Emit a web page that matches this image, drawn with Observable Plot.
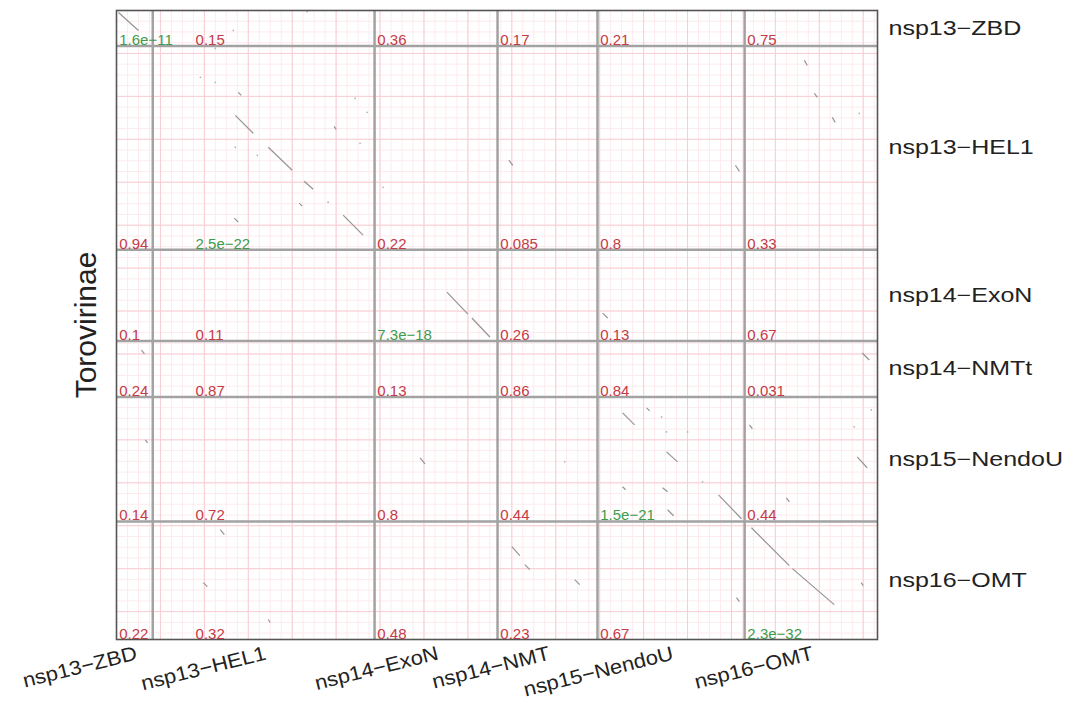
<!DOCTYPE html>
<html><head><meta charset="utf-8">
<script src="https://cdn.jsdelivr.net/npm/d3@7"></script>
<script src="https://cdn.jsdelivr.net/npm/@observablehq/plot@0.6"></script>
<style>body{margin:0;background:#fff;}</style>
</head><body><div id="chart"></div>
<script>
// Column domains (x) and row domains (y), lengths in residues
const colDomains = ["nsp13−ZBD","nsp13−HEL1","nsp14−ExoN","nsp14−NMT","nsp15−NendoU","nsp16−OMT"];
const colLengths = [33, 202, 112, 91, 134, 121];
const rowDomains = ["nsp13−ZBD","nsp13−HEL1","nsp14−ExoN","nsp14−NMTt","nsp15−NendoU","nsp16−OMT"];
const rowLengths = [33, 190, 85, 52, 116, 110];
const groupLabel = "Torovirinae";

// p-values per (row, column)
const pValues = [
  ["1.6e-11","0.15","0.36","0.17","0.21","0.75"],
  ["0.94","2.5e-22","0.22","0.085","0.8","0.33"],
  ["0.1","0.11","7.3e-18","0.26","0.13","0.67"],
  ["0.24","0.87","0.13","0.86","0.84","0.031"],
  ["0.14","0.72","0.8","0.44","1.5e-21","0.44"],
  ["0.22","0.32","0.48","0.23","0.67","2.3e-32"]
];
const significance = 1e-3;

// Dot-plot match segments [x1, y1, x2, y2] in residue coordinates
const segments = [
  [1.8,1.9,20,18.6],
  [108.2,97.7,124.5,114.4],[138.2,127.4,160,148.8],[170.9,159.1,179.1,166.5],[206.4,190.7,224.5,209.3],
  [110.9,76.3,113.6,79.1],[107.3,193.5,110.9,197.2],[166.4,179.5,169.1,182.3],[198.2,107.9,200,110.7],
  [300.9,262.3,320,282.8],[323.6,286.5,340,304.2],
  [460.9,374.9,471.8,386.0],[500.9,411.2,510.9,420.5],[548.2,451.2,569.1,473.5],[501.8,465.1,507.3,470.7],
  [482.7,370.2,485.5,373.0],[460.9,443.7,463.6,446.5],[497.3,444.7,501.8,448.4],
  [674.5,415.8,683.6,426.0],
  [578.2,481.9,612.7,517.2],[615.5,520,653.6,553.5],
  [360,499.5,367.3,507.9],[371.8,516.3,376.4,520.9],[417.3,530.2,421.8,534.9],
  [564.5,547,567.3,550.7],[678.2,533,680,535.8],
  [79.1,533,82.7,536.7],[138.2,567.4,140,570.2],[94.5,483.7,98.2,488.4],
  [626.4,46.5,629.1,51.2],[635.5,77.2,638.2,80.9],[651.8,99.5,654.5,104.2],
  [679.1,319.1,685.5,325.6],[442.7,281.9,447.3,286.5],[22.7,316.3,25.5,320],
  [357.3,139.5,360.9,144.2],[563.6,144.2,567.3,149.8],[276.4,416.7,280.9,422.3],
  [26.4,400,28.2,402.8],[576.4,386,579.1,389.8],[610,454,612.7,457.7]
];
// Isolated match specks [x, y]
const specks = [
  [106.4,18.6],[90,35.3],[173.6,0.9],[76.4,62.3],[496.4,378.6],[500.9,392.6],[520,392.6],
  [533.6,439.1],[408.2,420.5],[671.8,387.9],[687.3,372.1],[676.4,95.8],[90,67],[108.2,127.4],
  [128.2,134.9],[192.7,178.6],[221.8,123.7],[228.2,94.9],[217.3,81.9],[242.7,164.7]
];

const totalX = d3.sum(colLengths), totalY = d3.sum(rowLengths);
const colStart = colLengths.map((d, i) => d3.sum(colLengths.slice(0, i)));
const rowStart = rowLengths.map((d, i) => d3.sum(rowLengths.slice(0, i)));
const labelGap = 72;
const cells = [];
rowDomains.forEach((r, i) => colDomains.forEach((c, j) => {
  const lx = j === 0 ? colStart[0] + 2.5 : Math.max(colStart[j] + 2.5, colStart[j - 1] + labelGap);
  const p = pValues[i][j];
  cells.push({i, j, label: p.replace("-", "−"), sig: +p < significance, lx, ly: rowStart[i] + rowLengths[i]});
}));
const cols = colDomains.map((name, j) => ({name, c: colStart[j] + colLengths[j] / 2}));
const rows = rowDomains.map((name, i) => ({name, c: rowStart[i] + rowLengths[i] / 2}));

const minorX = d3.range(0, totalX, 10), majorX = d3.range(0, totalX, 40);
const minorY = d3.range(0, totalY, 10), majorY = d3.range(0, totalY, 40);
const font = "'Liberation Sans', Arial, sans-serif";

const chart = Plot.plot({
  width: 1073, height: 705,
  marginLeft: 116, marginRight: 196, marginTop: 10, marginBottom: 66,
  x: {domain: [0, totalX], axis: null},
  y: {domain: [0, totalY], reverse: true, axis: null},
  style: {fontFamily: font, background: "white"},
  marks: [
    Plot.ruleX(minorX, {stroke: "#fdebee", strokeWidth: 1}),
    Plot.ruleY(minorY, {stroke: "#fdebee", strokeWidth: 1}),
    Plot.ruleX(majorX, {stroke: "#f8cdd3", strokeWidth: 1}),
    Plot.ruleY(majorY, {stroke: "#f8cdd3", strokeWidth: 1}),
    Plot.ruleX(colStart.slice(1), {stroke: "#a2a2a2", strokeWidth: 2.5}),
    Plot.ruleY(rowStart.slice(1), {stroke: "#a2a2a2", strokeWidth: 2.5}),
    Plot.link(segments, {x1: d => d[0], y1: d => d[1], x2: d => d[2], y2: d => d[3], stroke: "#959595", strokeWidth: 1.2}),
    Plot.dot(specks, {x: d => d[0], y: d => d[1], r: 0.9, fill: "#b5b5b5", stroke: null}),
    Plot.frame({stroke: "#555", strokeWidth: 1.6}),
    Plot.text(cells.filter(d => !d.sig), {x: "lx", y: "ly", text: "label", fill: "#c53a45", textAnchor: "start", lineAnchor: "bottom", dy: -1, fontSize: 15}),
    Plot.text(cells.filter(d => d.sig), {x: "lx", y: "ly", text: "label", fill: "#3f9b4c", textAnchor: "start", lineAnchor: "bottom", dy: -1, fontSize: 15}),
    Plot.text(rows, {x: totalX, y: "c", text: "name", dx: 11, textAnchor: "start", fontSize: 20, fill: "#222", ariaDescription: "stretch-right"}),
    Plot.text(cols, {x: "c", y: totalY, text: "name", dy: 6, rotate: -14, textAnchor: "end", lineAnchor: "top", fontSize: 20, fill: "#222", ariaDescription: "stretch-bottom"}),
    Plot.text([groupLabel], {x: 0, y: totalY / 2, text: d => d, dx: -30, rotate: -90, textAnchor: "middle", lineAnchor: "middle", fontSize: 30, fill: "#222"})
  ]
});
document.getElementById("chart").appendChild(chart);
const stretch = {"stretch-right": 1.25, "stretch-bottom": 1.1};
d3.select(chart).selectAll('g[aria-description^="stretch"]').each(function() {
  const k = stretch[this.getAttribute("aria-description")];
  d3.select(this).selectAll("text").each(function() {
    const w = this.getComputedTextLength();
    this.setAttribute("textLength", w * k);
    this.setAttribute("lengthAdjust", "spacingAndGlyphs");
  });
});
</script>
</body></html>
